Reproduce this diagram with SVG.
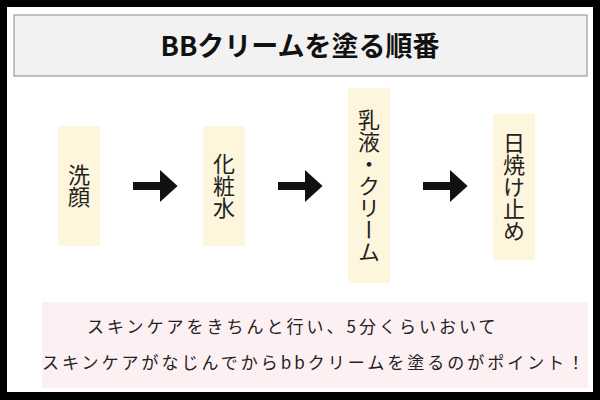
<svg xmlns="http://www.w3.org/2000/svg" width="600" height="400" viewBox="0 0 600 400">
<style>
.box{fill:#fdf5dc}
.v{font-family:"Noto Sans CJK JP",sans-serif;font-size:22px;fill:#222;writing-mode:vertical-rl;text-anchor:middle}
.b{font-family:"Noto Sans CJK JP",sans-serif;font-size:17px;fill:#222;letter-spacing:3px}
</style>
<defs><marker id="ah" markerWidth="4" markerHeight="4" refX="0" refY="2" orient="auto" markerUnits="strokeWidth"><path d="M0,0 L2.2,2 L0,4 Z" fill="#111"/></marker></defs>
<rect x="0" y="0" width="600" height="400" fill="#000"/>
<rect x="7" y="7" width="586" height="385" fill="#fff"/>
<g id="title"><rect x="14" y="15" width="573" height="61" fill="#f2f2f2" stroke="#888" stroke-width="1"/>
<text x="300" y="56" font-family="Noto Sans CJK JP,sans-serif" font-size="27" font-weight="bold" text-anchor="middle" fill="#111">BBクリームを塗る順番</text></g>
<g id="n1"><rect class="box" x="58" y="126" width="42" height="120"/><text class="v" x="79" y="186">洗顔</text></g>
<g id="n2"><rect class="box" x="203" y="126" width="42" height="120"/><text class="v" x="224" y="186">化粧水</text></g>
<g id="n3"><rect class="box" x="348" y="88" width="42" height="195"/><text class="v" x="369" y="186">乳液・クリーム</text></g>
<g id="n4"><rect class="box" x="493" y="114" width="42" height="146"/><text class="v" x="514" y="187">日焼け止め</text></g>
<g id="connectors" stroke="#111" stroke-width="8">
<line x1="133" y1="186" x2="160" y2="186" marker-end="url(#ah)"/>
<line x1="278" y1="186" x2="305" y2="186" marker-end="url(#ah)"/>
<line x1="423" y1="186" x2="450" y2="186" marker-end="url(#ah)"/>
</g>
<g id="note"><rect x="42" y="302" width="546" height="86" fill="#fdf0f3"/>
<text class="b" x="87" y="333">スキンケアをきちんと行い、5分くらいおいて</text>
<text class="b" x="42" y="369">スキンケアがなじんでからbbクリームを塗るのがポイント！</text></g>
</svg>
